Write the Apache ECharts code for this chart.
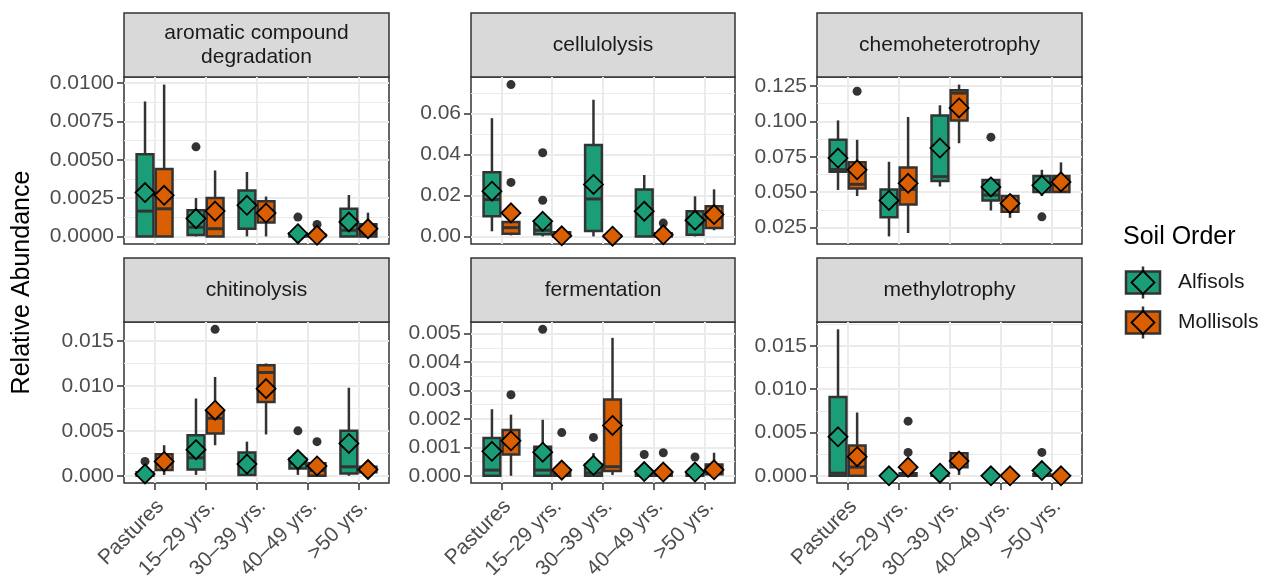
<!DOCTYPE html>
<html>
<head>
<meta charset="utf-8">
<script src="https://cdn.jsdelivr.net/npm/echarts/dist/echarts.min.js"></script>
<style>
  html, body { margin: 0; padding: 0; background: #fff; }
  #chart { width: 1263px; height: 582px; }
</style>
</head>
<body>
<div id="chart"></div>
<script>
const categories = ['Pastures', '15–29 yrs.', '30–39 yrs.', '40–49 yrs.', '>50 yrs.'];
const soilOrders = ['Alfisols', 'Mollisols'];

// box rows: [lower whisker, Q1, median, Q3, upper whisker], one per category
// outliers: [category index, soil index (0 Alfisols, 1 Mollisols), value]
const aromaticTicks = ['0.0000', '0.0025', '0.0050', '0.0075', '0.0100'];
const aromaticAlf = [[0, 0, 0.00165, 0.00536, 0.0088], [0, 0.0001, 0.0006, 0.0017, 0.0025], [0, 0.0005, 0.0022, 0.003, 0.0042], [0, 0, 0.0001, 0.0002, 0.0004], [0, 0, 0.0004, 0.0018, 0.0027]];
const aromaticMol = [[0, 0, 0.0018, 0.0044, 0.0099], [0, 0, 0.0005, 0.0025, 0.0043], [0, 0.0009, 0.0017, 0.0023, 0.0026], [0, 0, 0.00005, 0.0001, 0.0002], [0, 0, 0.0002, 0.0008, 0.00155]];
const aromaticAlfMean = [0.00286, 0.00116, 0.00203, 0.00018, 0.00094];
const aromaticMolMean = [0.00268, 0.00165, 0.00152, 0.00007, 0.0005];
const aromaticOut = [[1, 0, 0.00584], [3, 0, 0.00126], [3, 1, 0.00078]];

const celluTicks = ['0.00', '0.02', '0.04', '0.06'];
const celluAlf = [[0.0025, 0.0098, 0.018, 0.0313, 0.0578], [0, 0.001, 0.003, 0.006, 0.009], [0, 0.0026, 0.0183, 0.0447, 0.0668], [0, 0, 0.011, 0.0229, 0.03], [0, 0.0008, 0.006, 0.0123, 0.0196]];
const celluMol = [[0.0005, 0.0013, 0.0043, 0.007, 0.007], [0, 0, 0.0005, 0.002, 0.003], [0, 0, 0.0002, 0.0005, 0.001], [0, 0, 0.0005, 0.0015, 0.003], [0.003, 0.0041, 0.009, 0.0147, 0.023]];
const celluAlfMean = [0.0221, 0.0074, 0.0254, 0.0123, 0.0079];
const celluMolMean = [0.0115, 0.0003, 0.0001, 0.0008, 0.0107];
const celluOut = [[0, 1, 0.0742], [0, 1, 0.0264], [1, 0, 0.0409], [1, 0, 0.0177], [3, 1, 0.0065]];

const chemoTicks = ['0.025', '0.050', '0.075', '0.100', '0.125'];
const chemoAlf = [[0.0516, 0.0644, 0.066, 0.087, 0.1007], [0.0188, 0.0323, 0.045, 0.052, 0.0715], [0.054, 0.058, 0.061, 0.1042, 0.1114], [0.0371, 0.0442, 0.048, 0.0587, 0.0587], [0.0473, 0.0501, 0.055, 0.0615, 0.0658]];
const chemoMol = [[0.0473, 0.0526, 0.0556, 0.0711, 0.087], [0.0212, 0.0414, 0.052, 0.0675, 0.1031], [0.0846, 0.1007, 0.12, 0.122, 0.126], [0.0319, 0.0362, 0.041, 0.0473, 0.0473], [0.0501, 0.0501, 0.057, 0.0615, 0.0711]];
const chemoAlfMean = [0.0741, 0.0442, 0.0812, 0.0537, 0.0549];
const chemoMolMean = [0.0658, 0.0563, 0.1095, 0.0421, 0.0573];
const chemoOut = [[0, 1, 0.1213], [3, 0, 0.0889], [4, 0, 0.0326]];

const chitinTicks = ['0.000', '0.005', '0.010', '0.015'];
const chitinAlf = [[0, 0, 0.0001, 0.0004, 0.0008], [0.0001, 0.0007, 0.002, 0.0045, 0.0086], [0, 0.0001, 0.001, 0.0026, 0.0038], [0.0001, 0.0008, 0.0014, 0.0019, 0.0025], [0, 0.00025, 0.001, 0.005, 0.0098]];
const chitinMol = [[0.0001, 0.00065, 0.0015, 0.0024, 0.0034], [0.0034, 0.0047, 0.0064, 0.0071, 0.011], [0.0046, 0.0082, 0.0115, 0.0123, 0.0125], [0, 0, 0.0006, 0.0014, 0.0016], [0.0003, 0.0004, 0.0007, 0.001, 0.0012]];
const chitinAlfMean = [0.0002, 0.0029, 0.0013, 0.0018, 0.0036];
const chitinMolMean = [0.0016, 0.0073, 0.0097, 0.0011, 0.0007];
const chitinOut = [[0, 0, 0.0016], [1, 1, 0.0163], [3, 0, 0.005], [3, 1, 0.0038]];

const fermTicks = ['0.000', '0.001', '0.002', '0.003', '0.004', '0.005'];
const fermAlf = [[0, 0, 0.0002, 0.00133, 0.00234], [0, 0, 0.0002, 0.00102, 0.00197], [0, 0, 0.0001, 0.0004, 0.0008], [0, 0, 0.00005, 0.0001, 0.0002], [0, 0, 0.00005, 0.0001, 0.0002]];
const fermMol = [[0, 0.00075, 0.0011, 0.00161, 0.00215], [0, 0, 0.0001, 0.0002, 0.0004], [0.00003, 0.00017, 0.00032, 0.00268, 0.00485], [0, 0, 0.00005, 0.0001, 0.0002], [0.00002, 0.00005, 0.0002, 0.0004, 0.00081]];
const fermAlfMean = [0.00086, 0.00083, 0.00037, 0.00015, 0.00013];
const fermMolMean = [0.00123, 0.0002, 0.00177, 0.00013, 0.00021];
const fermOut = [[0, 1, 0.00285], [1, 0, 0.00515], [1, 1, 0.00152], [2, 0, 0.00135], [3, 0, 0.00075], [3, 1, 0.00081], [4, 0, 0.00066]];

const methylTicks = ['0.000', '0.005', '0.010', '0.015'];
const methylAlf = [[0, 0, 0.0003, 0.0091, 0.0169], [0, 0, 0, 0, 0], [0, 0, 0.0001, 0.0003, 0.0006], [0, 0, 0, 0, 0], [0, 0, 0.0001, 0.0002, 0.0004]];
const methylMol = [[0, 0, 0.001, 0.0035, 0.0073], [0, 0, 0.0001, 0.0003, 0.0006], [0.0001, 0.001, 0.0018, 0.0026, 0.0026], [0, 0, 0, 0, 0], [0, 0, 0, 0, 0]];
const methylAlfMean = [0.0045, 0, 0.0003, 0, 0.0006];
const methylMolMean = [0.0022, 0.001, 0.0017, 0, 0];
const methylOut = [[1, 1, 0.0063], [1, 1, 0.0027], [4, 0, 0.0027]];

const FONT = '"Liberation Sans", Arial, sans-serif';
const soilColors = ['#1b9e77', '#d95f02'];
const DARK = '#333333';

const panels = [
  { name: 'aromatic compound\ndegradation', ticks: aromaticTicks, box: [aromaticAlf, aromaticMol], mean: [aromaticAlfMean, aromaticMolMean], out: aromaticOut },
  { name: 'cellulolysis', ticks: celluTicks, box: [celluAlf, celluMol], mean: [celluAlfMean, celluMolMean], out: celluOut },
  { name: 'chemoheterotrophy', ticks: chemoTicks, box: [chemoAlf, chemoMol], mean: [chemoAlfMean, chemoMolMean], out: chemoOut },
  { name: 'chitinolysis', ticks: chitinTicks, box: [chitinAlf, chitinMol], mean: [chitinAlfMean, chitinMolMean], out: chitinOut },
  { name: 'fermentation', ticks: fermTicks, box: [fermAlf, fermMol], mean: [fermAlfMean, fermMolMean], out: fermOut },
  { name: 'methylotrophy', ticks: methylTicks, box: [methylAlf, methylMol], mean: [methylAlfMean, methylMolMean], out: methylOut }
];

const colLeft = [124, 471, 817];
const colWidth = [265, 264, 265];
const rowTop = [77, 322];
const rowHeight = [167, 166];
const stripH = 64;
const dodge = [-0.1875, 0.1875];

// ggplot style 5% expansion of the data range
function yRange(p) {
  let lo = Infinity, hi = -Infinity;
  p.box.forEach(b => b.forEach(r => { lo = Math.min(lo, r[0]); hi = Math.max(hi, r[4]); }));
  p.out.forEach(o => { lo = Math.min(lo, o[2]); hi = Math.max(hi, o[2]); });
  p.mean.forEach(m => m.forEach(v => { lo = Math.min(lo, v); hi = Math.max(hi, v); }));
  const pad = (hi - lo) * 0.05;
  return [lo - pad, hi + pad];
}

function minorValues(majors, range) {
  const step = majors[1] - majors[0];
  const res = [];
  for (let v = majors[0] - step / 2; v <= range[1]; v += step) {
    if (v >= range[0]) res.push(+v.toFixed(8));
  }
  return res;
}

function boxRenderer(soil) {
  return function (params, api) {
    const c = api.value(0);
    const band = api.size([1, 0])[0];
    const cx = api.coord([c + dodge[soil], 0])[0];
    const hw = 0.165 * band;
    const py = k => api.coord([c, api.value(k)])[1];
    const lo = py(1), q1 = py(2), md = py(3), q3 = py(4), hi = py(5);
    const st = { stroke: DARK, lineWidth: 2.5 };
    return {
      type: 'group',
      children: [
        { type: 'line', shape: { x1: cx, y1: hi, x2: cx, y2: q3 }, style: st },
        { type: 'line', shape: { x1: cx, y1: q1, x2: cx, y2: lo }, style: st },
        { type: 'rect', shape: { x: cx - hw, y: q3, width: 2 * hw, height: Math.max(q1 - q3, 0) },
          style: { fill: soilColors[soil], stroke: DARK, lineWidth: 2.5 } },
        { type: 'line', shape: { x1: cx - hw, y1: md, x2: cx + hw, y2: md }, style: { stroke: DARK, lineWidth: 3 } }
      ]
    };
  };
}

function meanRenderer(soil) {
  return function (params, api) {
    const c = api.value(0);
    const p = api.coord([c + dodge[soil], api.value(1)]);
    const r = 9.5;
    return {
      type: 'polygon',
      shape: { points: [[p[0], p[1] - r], [p[0] + r, p[1]], [p[0], p[1] + r], [p[0] - r, p[1]]] },
      style: { fill: soilColors[soil], stroke: '#000', lineWidth: 1.8 }
    };
  };
}

function outlierRenderer(params, api) {
  const c = api.value(0), soil = api.value(1);
  const p = api.coord([c + dodge[soil], api.value(2)]);
  return { type: 'circle', shape: { cx: p[0], cy: p[1], r: 4.5 }, style: { fill: DARK } };
}

const grids = [], xAxes = [], yAxes = [], series = [], graphics = [];

panels.forEach((p, i) => {
  const col = i % 3, row = Math.floor(i / 3);
  const bottom = row === 1;
  const range = yRange(p);
  const majors = p.ticks.map(Number);
  grids.push({
    left: colLeft[col], top: rowTop[row], width: colWidth[col], height: rowHeight[row],
    show: true, backgroundColor: '#fff', borderColor: DARK, borderWidth: 1.5
  });
  xAxes.push({
    gridIndex: i, type: 'value', min: -0.6, max: 4.6, position: 'bottom',
    axisLine: { show: false, onZero: false },
    axisTick: { show: bottom, customValues: [0, 1, 2, 3, 4], length: 7, lineStyle: { color: DARK, width: 1.5 } },
    axisLabel: {
      show: bottom, customValues: [0.12, 1.12, 2.12, 3.12, 4.12], rotate: 45, margin: 20,
      fontSize: 21, fontFamily: FONT, color: '#4d4d4d',
      formatter: v => categories[Math.round(v)]
    },
    splitLine: { show: true, lineStyle: { color: '#ebebeb', width: 2 } }
  });
  yAxes.push({
    gridIndex: i, type: 'value', min: range[0], max: range[1], position: 'left',
    axisLine: { show: false, onZero: false },
    axisTick: { show: true, customValues: majors, length: 7, lineStyle: { color: DARK, width: 1.5 } },
    axisLabel: {
      customValues: majors, margin: 10, fontSize: 21, fontFamily: FONT, color: '#4d4d4d',
      formatter: v => p.ticks[majors.findIndex(m => Math.abs(m - v) < 1e-9)]
    },
    splitLine: { show: true, lineStyle: { color: '#ebebeb', width: 2 } }
  });
  yAxes.push({
    gridIndex: i, type: 'value', min: range[0], max: range[1], position: 'right',
    axisLine: { show: false, onZero: false },
    axisTick: { show: false, customValues: minorValues(majors, range) },
    axisLabel: { show: false },
    splitLine: { show: true, lineStyle: { color: '#ebebeb', width: 1 } }
  });
  [0, 1].forEach(s => {
    series.push({
      type: 'custom', name: soilOrders[s], xAxisIndex: i, yAxisIndex: 2 * i, z: 2,
      renderItem: boxRenderer(s),
      data: p.box[s].map((r, k) => [k].concat(r))
    });
  });
  series.push({
    type: 'custom', xAxisIndex: i, yAxisIndex: 2 * i, z: 3,
    renderItem: outlierRenderer, data: p.out
  });
  [0, 1].forEach(s => {
    series.push({
      type: 'custom', xAxisIndex: i, yAxisIndex: 2 * i, z: 4,
      renderItem: meanRenderer(s),
      data: p.mean[s].map((v, k) => [k, v])
    });
  });
  // facet strip
  graphics.push({
    type: 'rect',
    shape: { x: colLeft[col], y: rowTop[row] - stripH, width: colWidth[col], height: stripH },
    style: { fill: '#d9d9d9', stroke: DARK, lineWidth: 1.5 }
  });
  graphics.push({
    type: 'text', x: colLeft[col] + colWidth[col] / 2, y: rowTop[row] - stripH / 2,
    style: { text: p.name, fontSize: 21, fontFamily: FONT, fill: '#1a1a1a', align: 'center', verticalAlign: 'middle', lineHeight: 24 }
  });
});

graphics.push({
  type: 'text', x: 22, y: 282.5, rotation: Math.PI / 2,
  style: { text: 'Relative Abundance', fontSize: 25, fontFamily: FONT, fill: '#000', align: 'center', verticalAlign: 'middle' }
});
graphics.push({
  type: 'text', x: 1123, y: 237,
  style: { text: 'Soil Order', fontSize: 25, fontFamily: FONT, fill: '#000', align: 'left', verticalAlign: 'middle' }
});
soilOrders.forEach((name, s) => {
  const cy = 282.5 + 40 * s, cx = 1143;
  graphics.push({ type: 'line', shape: { x1: cx, y1: cy - 16, x2: cx, y2: cy + 16 }, style: { stroke: DARK, lineWidth: 2.5 } });
  graphics.push({ type: 'rect', shape: { x: cx - 17, y: cy - 11, width: 34, height: 22 }, style: { fill: soilColors[s], stroke: DARK, lineWidth: 2.5 } });
  graphics.push({
    type: 'polygon', shape: { points: [[cx, cy - 11.5], [cx + 11.5, cy], [cx, cy + 11.5], [cx - 11.5, cy]] },
    style: { fill: soilColors[s], stroke: '#000', lineWidth: 1.8 }
  });
  graphics.push({
    type: 'text', x: 1178, y: cy,
    style: { text: name, fontSize: 21, fontFamily: FONT, fill: '#1a1a1a', align: 'left', verticalAlign: 'middle' }
  });
});

const chart = echarts.init(document.getElementById('chart'));
chart.setOption({
  animation: false,
  backgroundColor: '#fff',
  grid: grids,
  xAxis: xAxes,
  yAxis: yAxes,
  series: series,
  graphic: graphics
});
</script>
</body>
</html>
